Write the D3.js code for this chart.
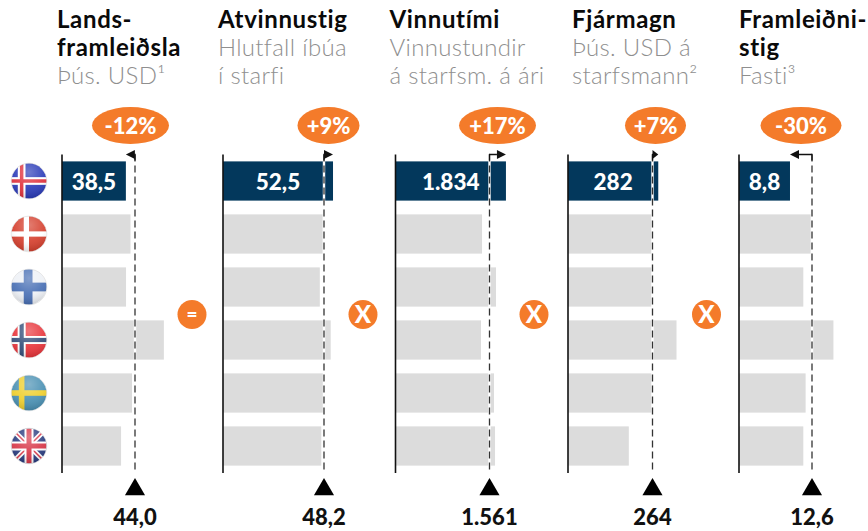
<!DOCTYPE html>
<html><head><meta charset="utf-8">
<script src="https://cdn.jsdelivr.net/npm/d3@7/dist/d3.min.js"></script>
<style>
html,body{margin:0;padding:0;background:#fff}
svg{display:block}
text{font-family:Lato,"Open Sans",sans-serif}
</style></head><body>
<svg id="c" width="868" height="531"></svg>
<script>
const countries = ["Ísland","Danmörk","Finnland","Noregur","Svíþjóð","Bretland"];
const titles = [["Lands-","framleiðsla"],["Atvinnustig"],["Vinnutími"],["Fjármagn"],["Framleiðni-","stig"]];
const subtitles = [["Þús. USD¹"],["Hlutfall íbúa","í starfi"],["Vinnustundir","á starfsm. á ári"],["Þús. USD á","starfsmann²"],["Fasti³"]];
const gdp = [38.5,41.3,38.6,61.4,42.2,35.6];
const employment = [52.5,47.6,46.2,51.4,48.3,46.9];
const hours = [1834,1437,1669,1420,1636,1653];
const capital = [282,262,262,339,265,190];
const productivity = [8.8,12.4,11.1,16.3,11.5,11.1];
const seriesValues = [gdp,employment,hours,capital,productivity];
const averages = [44.0,48.2,1561,264,12.6];
const valueLabels = ["38,5","52,5","1.834","282","8,8"];
const averageLabels = ["44,0","48,2","1.561","264","12,6"];
const badgeLabels = ["-12%","+9%","+17%","+7%","-30%"];
const operators = ["=","X","X","X"];

// layout
const axisX = [62,223,395.5,568,739];
const refX = [135,324,489.5,652.5,812];
const textX = [57,218,389.5,572,739];
const badgeX = [130.5,328.5,497.5,655.5,801];
const badgeRx = [38.5,31,38.5,30.5,40.5];
const opX = [192,363,534,706.5];
const yTop = 154.5, yBot = 472.5;
const orange = "#F47B2A", navy = "#03385C", grey = "#DCDCDC";

const svg = d3.select("#c");
const defs = svg.append("defs");
const y = d3.scaleBand().domain(countries).range([yTop,yBot]).paddingInner(0.26).paddingOuter(0.13);

const gloss = defs.append("radialGradient").attr("id","gloss").attr("cx","50%").attr("cy","25%").attr("r","75%");
gloss.append("stop").attr("offset","0%").attr("stop-color","#fff").attr("stop-opacity",0.32);
gloss.append("stop").attr("offset","60%").attr("stop-color","#fff").attr("stop-opacity",0.08);
gloss.append("stop").attr("offset","100%").attr("stop-color","#000").attr("stop-opacity",0.14);
const blur = defs.append("filter").attr("id","soft");
blur.append("feGaussianBlur").attr("stdDeviation",0.5);

const flagDefs = [
 {base:"#2A3AB8",off:-.42,cross:[["#fff",.44],["#E0303E",.2]]},
 {base:"#D5402E",off:-.15,cross:[["#fff",.3]]},
 {base:"#EEF1F6",off:-.05,cross:[["#4A6FB5",.5]]},
 {base:"#E8343A",off:-.42,cross:[["#fff",.46],["#34507A",.24]]},
 {base:"#4A90B3",off:-.42,cross:[["#EFCF2E",.32]]},
 {base:"#2A3C80",uk:true}
];
const fx=29, fr=17.5;
countries.forEach((c,i)=>{
  const cy=y(c)+y.bandwidth()/2;
  defs.append("clipPath").attr("id","f"+i).append("circle").attr("cx",fx).attr("cy",cy).attr("r",fr);
  const outer=svg.append("g").attr("clip-path",`url(#f${i})`);
  const g=outer.append("g").attr("filter","url(#soft)");
  const d=flagDefs[i];
  g.append("rect").attr("x",fx-fr-2).attr("y",cy-fr-2).attr("width",2*fr+4).attr("height",2*fr+4).attr("fill",d.base);
  if(d.uk){
    const L=(x1,y1,x2,y2,col,w)=>g.append("line").attr("x1",fx+x1*fr).attr("y1",cy+y1*fr).attr("x2",fx+x2*fr).attr("y2",cy+y2*fr).attr("stroke",col).attr("stroke-width",w);
    L(-1,-1,1,1,"#fff",5);L(-1,1,1,-1,"#fff",5);
    L(-1,-1,1,1,"#D8374A",1.6);L(-1,1,1,-1,"#D8374A",1.6);
    L(0,-1,0,1,"#fff",9);L(-1,0,1,0,"#fff",9);
    L(0,-1,0,1,"#D8374A",5);L(-1,0,1,0,"#D8374A",5);
  } else {
    d.cross.forEach(([col,w])=>{
      const t=w*fr, cx=fx+d.off*fr;
      g.append("rect").attr("x",fx-fr-2).attr("y",cy-t/2).attr("width",2*fr+4).attr("height",t).attr("fill",col);
      g.append("rect").attr("x",cx-t/2).attr("y",cy-fr-2).attr("width",t).attr("height",2*fr+4).attr("fill",col);
    });
  }
  outer.append("circle").attr("cx",fx).attr("cy",cy).attr("r",fr).attr("fill","url(#gloss)");
  svg.append("circle").attr("cx",fx).attr("cy",cy).attr("r",fr+.3).attr("fill","none").attr("stroke","#bbb").attr("stroke-opacity",.5).attr("stroke-width",.7);
});

seriesValues.forEach((vals,p)=>{
  const x=d3.scaleLinear().domain([0,averages[p]]).range([axisX[p],refX[p]]);
  const g=svg.append("g");
  const rows=countries.map((c,i)=>({c,v:vals[i],i}));
  g.selectAll("rect.bar").data(rows).join("rect").attr("class","bar")
    .attr("x",x(0)).attr("y",d=>y(d.c)).attr("width",d=>x(d.v)-x(0)).attr("height",y.bandwidth())
    .attr("fill",d=>d.i===0?navy:grey);
  g.append("line").attr("x1",x(0)).attr("x2",x(0)).attr("y1",yTop).attr("y2",yBot+.5).attr("stroke","#111").attr("stroke-width",1.6);
  const rx=x(averages[p]);
  g.append("line").attr("x1",rx).attr("x2",rx).attr("y1",yTop).attr("y2",yBot).attr("stroke","#fff").attr("stroke-width",2.4);
  g.append("line").attr("x1",rx).attr("x2",rx).attr("y1",yTop).attr("y2",yBot).attr("stroke","#333").attr("stroke-width",1.3).attr("stroke-dasharray","7 4");
  g.append("text").attr("x",(x(0)+x(vals[0]))/2).attr("y",189.5).attr("text-anchor","middle").attr("fill","#fff")
    .attr("font-size",22.5).attr("font-weight",900).text(valueLabels[p]);
  const ex=x(vals[0]), dir=ex>rx?1:-1, ay=154.5;
  const head=Math.min(9,Math.abs(ex-rx));
  if(Math.abs(ex-rx)>head+1) g.append("line").attr("x1",rx).attr("x2",ex-dir*head).attr("y1",ay).attr("y2",ay).attr("stroke","#111").attr("stroke-width",1.5);
  g.append("path").attr("d",`M${ex},${ay}L${ex-dir*head},${ay-4.5}L${ex-dir*head},${ay+4.5}Z`).attr("fill","#111");
  g.append("line").attr("x1",rx).attr("x2",rx).attr("y1",ay-.7).attr("y2",ay+6).attr("stroke","#111").attr("stroke-width",1.3);
  g.append("ellipse").attr("cx",badgeX[p]).attr("cy",125.5).attr("rx",badgeRx[p]).attr("ry",18.5).attr("fill",orange);
  g.append("text").attr("x",badgeX[p]).attr("y",133.5).attr("text-anchor","middle").attr("fill","#fff")
    .attr("font-size",22).attr("font-weight",900).text(badgeLabels[p]);
  g.append("path").attr("d",d3.symbol(d3.symbolTriangle,175)()).attr("transform",`translate(${rx},${489.5})`).attr("fill","#000");
  g.append("text").attr("x",rx).attr("y",524.5).attr("text-anchor","middle").attr("fill","#111")
    .attr("font-size",22).attr("font-weight",900).text(averageLabels[p]);
  const lh=28;
  titles[p].forEach((t,i)=>g.append("text").attr("x",textX[p]).attr("y",28+i*lh).attr("fill","#0a0a0a")
    .attr("font-size",24).attr("letter-spacing",0.65).attr("font-weight",700).text(t));
  subtitles[p].forEach((t,i)=>g.append("text").attr("x",textX[p]).attr("y",28+(titles[p].length+i)*lh).attr("fill","#8f8f8f")
    .attr("font-size",24).attr("letter-spacing",0.3).attr("font-weight",300).text(t));
});

operators.forEach((o,i)=>{
  svg.append("circle").attr("cx",opX[i]).attr("cy",314.5).attr("r",14.5).attr("fill",orange);
  svg.append("text").attr("x",opX[i]).attr("y",o==="="?321:323).attr("text-anchor","middle").attr("fill","#fff")
    .attr("font-size",o==="="?19:24).attr("font-weight",900).text(o);
});
</script>
</body></html>
